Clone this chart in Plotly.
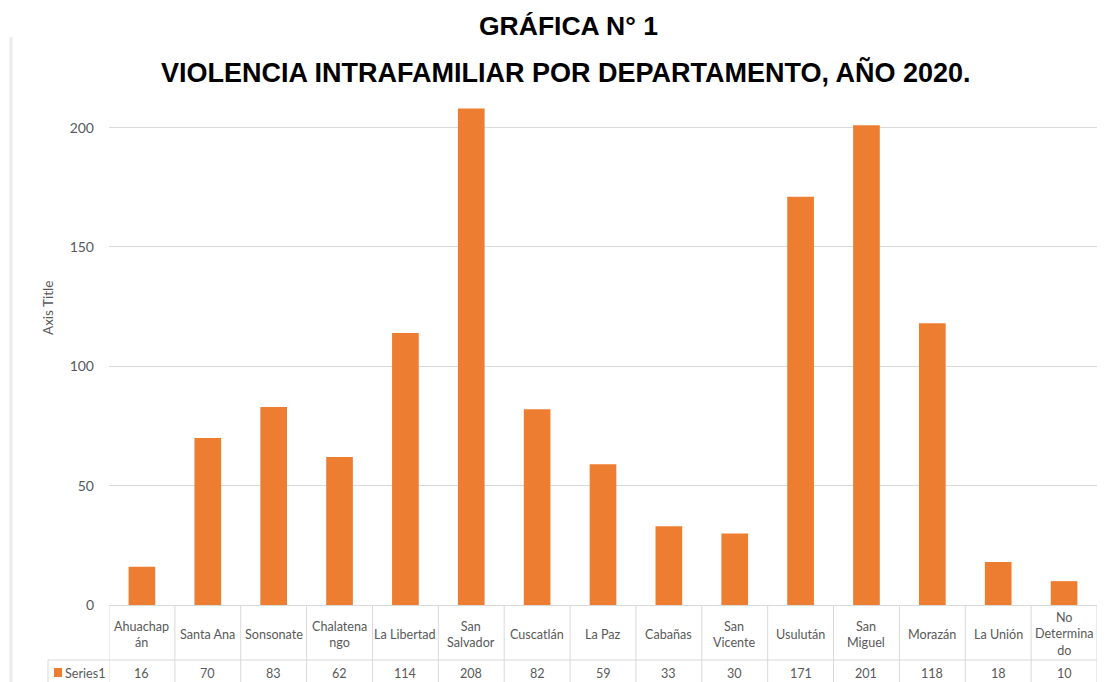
import plotly.graph_objects as go

# ---- data ----
departamentos = ["Ahuachapán", "Santa Ana", "Sonsonate", "Chalatenango", "La Libertad",
                 "San Salvador", "Cuscatlán", "La Paz", "Cabañas", "San Vicente",
                 "Usulután", "San Miguel", "Morazán", "La Unión", "No Determinado"]
etiquetas_tabla = ["Ahuachap<br>án", "Santa Ana", "Sonsonate", "Chalatena<br>ngo", "La Libertad",
                   "San<br>Salvador", "Cuscatlán", "La Paz", "Cabañas", "San<br>Vicente",
                   "Usulután", "San<br>Miguel", "Morazán", "La Unión", "No<br>Determina<br>do"]
casos = [16, 70, 83, 62, 114, 208, 82, 59, 33, 30, 171, 201, 118, 18, 10]
serie_nombre = "Series1"
y_ticks = [0, 50, 100, 150, 200]
titulo1 = "GRÁFICA N° 1"
titulo2 = "VIOLENCIA INTRAFAMILIAR POR DEPARTAMENTO, AÑO 2020."

# ---- layout geometry (pixels, in the window's coordinates) ----
OFF = 8                      # page body margin
W, H = 1113 - OFF, 682 - OFF
PLOT_L, PLOT_R, PLOT_T, PLOT_B = 109, 1097, 100, 605
L = PLOT_L - OFF
R = W - (PLOT_R - OFF)
T = PLOT_T - OFF
B = H - (PLOT_B - OFF)
PW, PH = PLOT_R - PLOT_L, PLOT_B - PLOT_T
ORANGE = "#ED7D31"
GRID = "#d9d9d9"
TXT = "#595959"
FONT = "Lato, Carlito, Calibri, sans-serif"


def px(x):
    return (x - PLOT_L) / PW


def py(y):
    return (PLOT_B - y) / PH


fig = go.Figure()
fig.add_trace(go.Bar(x=departamentos, y=casos, marker_color=ORANGE, name=serie_nombre,
                     marker_line_width=0, hoverinfo="x+y"))

shapes = []
n = len(departamentos)
# vertical table lines
for i in range(n + 1):
    shapes.append(dict(type="line", xref="x", yref="paper", x0=i - 0.5, x1=i - 0.5,
                       y0=py(605), y1=py(690), line=dict(color=GRID, width=1)))
# horizontal separator between rows
shapes.append(dict(type="line", xref="paper", yref="paper", x0=px(48), x1=px(1097),
                   y0=py(660), y1=py(660), line=dict(color=GRID, width=1)))
# left border of series cell
shapes.append(dict(type="line", xref="paper", yref="paper", x0=px(48), x1=px(48),
                   y0=py(660), y1=py(690), line=dict(color=GRID, width=1)))
# legend key square
shapes.append(dict(type="rect", xref="paper", yref="paper", x0=px(54), x1=px(62),
                   y0=py(677), y1=py(668), fillcolor=ORANGE, line=dict(width=0)))
# outer frame line on the left
shapes.append(dict(type="line", xref="paper", yref="paper", x0=px(11), x1=px(11),
                   y0=py(37), y1=py(690), line=dict(color="#ebebeb", width=3)))

annotations = []
for d, lab, v in zip(departamentos, etiquetas_tabla, casos):
    annotations.append(dict(x=d, y=py(634), xref="x", yref="paper", text=lab,
                            showarrow=False, font=dict(family=FONT, size=12.6, color=TXT),
                            align="center", yanchor="middle"))
    annotations.append(dict(x=d, y=py(673), xref="x", yref="paper", text=str(v),
                            showarrow=False, font=dict(family=FONT, size=12.6, color=TXT),
                            yanchor="middle"))
annotations.append(dict(x=px(63), y=py(673), xref="paper", yref="paper", text=serie_nombre,
                        showarrow=False, xanchor="left", yanchor="middle",
                        font=dict(family=FONT, size=12.6, color=TXT)))
annotations.append(dict(x=px(568), y=py(26), xref="paper", yref="paper", text="<b>" + titulo1 + "</b>",
                        showarrow=False, yanchor="middle",
                        font=dict(family="Liberation Sans, Arial", size=26.5, color="#000000")))
annotations.append(dict(x=px(566), y=py(73), xref="paper", yref="paper", text="<b>" + titulo2 + "</b>",
                        showarrow=False, yanchor="middle",
                        font=dict(family="Liberation Sans, Arial", size=27, color="#000000")))
annotations.append(dict(x=px(48), y=py(308), xref="paper", yref="paper", text="Axis Title",
                        showarrow=False, textangle=-90, xanchor="center", yanchor="middle",
                        font=dict(family=FONT, size=13.5, color=TXT)))

fig.update_layout(
    width=W, height=H,
    margin=dict(l=L, r=R, t=T, b=B, pad=0),
    paper_bgcolor="white", plot_bgcolor="white",
    showlegend=False,
    bargap=0.595,
    shapes=shapes,
    annotations=annotations,
    xaxis=dict(type="category", showticklabels=False, showgrid=False, zeroline=False,
               showline=True, linecolor=GRID, linewidth=1, range=[-0.5, n - 0.5], fixedrange=True),
    yaxis=dict(range=[0, PH / 2.387], tickvals=y_ticks, showgrid=True, gridcolor=GRID, gridwidth=1,
               zeroline=False, showline=False, ticklabelstandoff=14,
               tickfont=dict(family=FONT, size=14, color=TXT), fixedrange=True),
)

fig.write_html("out.html")
